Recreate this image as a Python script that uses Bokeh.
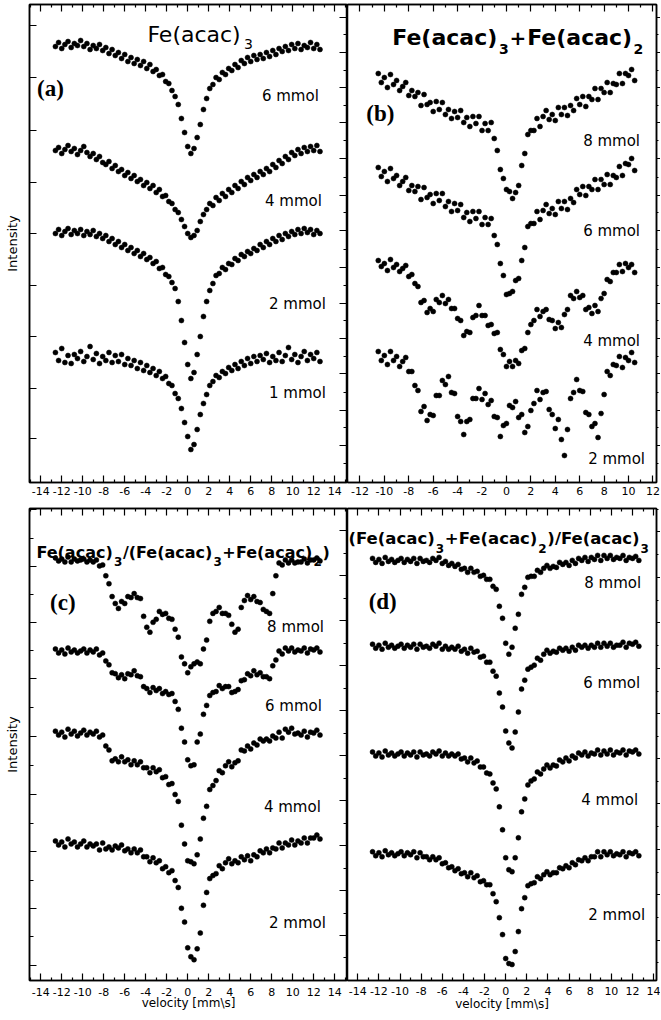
from bokeh.plotting import figure
from bokeh.layouts import row, column
from bokeh.models import Range1d, LinearAxis, FixedTicker, Label, CustomJSTickFormatter
from bokeh.embed import file_html
from bokeh.resources import INLINE

# ---------------- data (velocity in mm/s, intensity in arbitrary units) ----------------
VEL_W = [-12.6, -12.3, -12.0, -11.7, -11.4, -11.1, -10.8, -10.5, -10.2, -9.9, -9.6, -9.3, -9.0, -8.7,
         -8.4, -8.1, -7.8, -7.5, -7.2, -6.9, -6.6, -6.3, -6.0, -5.7, -5.4, -5.1, -4.8, -4.5, -4.2,
         -3.9, -3.6, -3.3, -3.0, -2.7, -2.4, -2.1, -1.8, -1.5, -1.2, -0.9, -0.6, -0.3, 0.0, 0.3, 0.6,
         0.9, 1.2, 1.5, 1.8, 2.1, 2.4, 2.7, 3.0, 3.3, 3.6, 3.9, 4.2, 4.5, 4.8, 5.1, 5.4, 5.7, 6.0,
         6.3, 6.6, 6.9, 7.2, 7.5, 7.8, 8.1, 8.4, 8.7, 9.0, 9.3, 9.6, 9.9, 10.2, 10.5, 10.8, 11.1,
         11.4, 11.7, 12.0, 12.3, 12.6]
VEL_B = [-10.5, -10.25, -10.0, -9.75, -9.5, -9.25, -9.0, -8.75, -8.5, -8.25, -8.0, -7.75, -7.5,
         -7.25, -7.0, -6.75, -6.5, -6.25, -6.0, -5.75, -5.5, -5.25, -5.0, -4.75, -4.5, -4.25, -4.0,
         -3.75, -3.5, -3.25, -3.0, -2.75, -2.5, -2.25, -2.0, -1.75, -1.5, -1.25, -1.0, -0.75, -0.5,
         -0.25, 0.0, 0.25, 0.5, 0.75, 1.0, 1.25, 1.5, 1.75, 2.0, 2.25, 2.5, 2.75, 3.0, 3.25, 3.5,
         3.75, 4.0, 4.25, 4.5, 4.75, 5.0, 5.25, 5.5, 5.75, 6.0, 6.25, 6.5, 6.75, 7.0, 7.25, 7.5,
         7.75, 8.0, 8.25, 8.5, 8.75, 9.0, 9.25, 9.5, 9.75, 10.0, 10.25, 10.5]

# (a) Fe(acac)3
A_6 = [436, 440, 434, 438, 441, 435, 439, 437, 442, 436, 439, 433, 437, 434, 438, 432, 435, 429, 433, 427,
       430, 424, 428, 421, 425, 419, 423, 417, 421, 414, 418, 411, 413, 407, 408, 401, 399, 392, 386, 378,
       364, 350, 336, 329, 334, 345, 358, 373, 384, 394, 398, 405, 403, 410, 408, 414, 412, 418, 415, 422,
       419, 425, 421, 427, 423, 428, 424, 430, 426, 432, 428, 434, 431, 436, 432, 438, 434, 439, 433, 437,
       435, 440, 434, 438, 433]
A_4 = [332, 335, 329, 333, 337, 331, 334, 328, 332, 336, 330, 326, 329, 323, 326, 320, 318, 321, 314, 317,
       311, 313, 307, 310, 304, 307, 301, 303, 297, 300, 294, 297, 290, 293, 286, 287, 281, 279, 273, 270,
       263, 256, 249, 245, 247, 252, 261, 268, 273, 279, 277, 285, 282, 289, 286, 293, 290, 297, 294, 301,
       298, 305, 302, 308, 305, 311, 308, 314, 311, 318, 315, 322, 319, 326, 323, 330, 327, 333, 329, 335,
       331, 336, 332, 337, 331]
A_2 = [249, 253, 247, 251, 254, 248, 252, 249, 253, 247, 251, 248, 252, 246, 249, 244, 247, 241, 244, 238,
       241, 235, 238, 232, 235, 229, 232, 226, 229, 223, 225, 219, 221, 214, 215, 208, 206, 200, 194, 181,
       162, 140, 118, 104, 110, 128, 146, 166, 181, 192, 199, 207, 209, 215, 213, 219, 218, 224, 222, 228,
       226, 231, 229, 234, 232, 238, 235, 241, 238, 244, 241, 247, 243, 249, 246, 251, 248, 253, 249, 254,
       250, 253, 248, 252, 249]
A_1 = [130, 122, 134, 120, 127, 119, 128, 124, 131, 121, 126, 136, 123, 129, 119, 126, 122, 130, 120, 127,
       121, 128, 118, 124, 117, 122, 114, 120, 112, 117, 110, 114, 107, 111, 104, 106, 99, 97, 89, 84,
       74, 60, 46, 33, 38, 53, 68, 79, 88, 97, 101, 107, 105, 111, 109, 115, 112, 118, 114, 121,
       117, 124, 119, 126, 121, 127, 123, 129, 120, 126, 122, 130, 121, 127, 135, 123, 128, 120, 126, 131,
       122, 128, 124, 130, 121]

# (b) Fe(acac)3 + Fe(acac)2
B_8 = [409, 400, 405, 395, 408, 398, 402, 392, 396, 400, 387, 392, 386, 390, 377, 388, 378, 380, 371, 381,
       373, 380, 368, 373, 364, 371, 365, 372, 360, 365, 356, 366, 359, 366, 352, 359, 352, 360, 344, 332,
       313, 304, 293, 291, 284, 290, 297, 317, 329, 348, 352, 352, 364, 356, 366, 372, 363, 368, 362, 375,
       368, 375, 367, 377, 372, 384, 378, 386, 376, 386, 383, 394, 383, 394, 390, 400, 390, 399, 398, 409,
       399, 409, 407, 413, 402]
B_6 = [315, 306, 311, 301, 314, 304, 307, 297, 301, 305, 292, 297, 291, 296, 283, 295, 285, 288, 279, 289,
       282, 289, 276, 281, 271, 279, 272, 278, 265, 270, 261, 271, 264, 271, 258, 265, 258, 264, 247, 238,
       219, 207, 188, 189, 191, 202, 204, 222, 235, 256, 259, 259, 271, 263, 272, 278, 269, 274, 268, 281,
       274, 281, 273, 284, 280, 293, 288, 296, 287, 296, 293, 303, 293, 303, 298, 308, 298, 307, 305, 316,
       307, 319, 318, 324, 312]
B_4 = [222, 216, 219, 212, 223, 215, 218, 211, 214, 217, 206, 208, 199, 196, 180, 182, 170, 174, 171, 183,
       180, 187, 179, 183, 174, 174, 164, 162, 147, 151, 150, 165, 167, 177, 167, 167, 157, 158, 149, 150,
       133, 128, 116, 121, 116, 122, 119, 132, 134, 150, 158, 162, 173, 166, 171, 173, 163, 162, 154, 160,
       155, 168, 173, 187, 184, 191, 185, 187, 173, 175, 169, 177, 171, 184, 189, 203, 201, 210, 210, 218,
       211, 219, 215, 218, 210]
B_2 = [131, 122, 127, 118, 131, 122, 126, 116, 121, 125, 111, 111, 97, 92, 71, 76, 62, 68, 67, 87,
       87, 102, 98, 106, 90, 89, 66, 61, 48, 61, 63, 84, 84, 94, 83, 89, 78, 82, 66, 65,
       46, 57, 59, 77, 75, 81, 65, 68, 50, 56, 72, 79, 92, 83, 90, 91, 73, 68, 54, 63,
       43, 27, 53, 84, 90, 103, 92, 91, 70, 68, 56, 59, 45, 69, 88, 111, 107, 118, 117, 126,
       115, 125, 122, 130, 120]

# (c) Fe(acac)3/(Fe(acac)3+Fe(acac)2)
C_8 = [427, 424, 426, 423, 428, 423, 426, 424, 425, 426, 423, 425, 423, 425, 419, 420, 409, 401, 388, 381,
       376, 383, 381, 388, 387, 391, 387, 386, 368, 357, 352, 362, 365, 373, 370, 371, 366, 365, 355, 347,
       327, 320, 311, 317, 320, 322, 320, 335, 344, 363, 371, 373, 377, 371, 371, 369, 360, 352, 355, 377,
       384, 389, 385, 388, 383, 382, 375, 373, 371, 391, 409, 422, 420, 425, 422, 425, 422, 423, 423, 426,
       422, 425, 425, 427, 424]
C_6 = [335, 331, 334, 330, 336, 332, 334, 331, 333, 335, 331, 334, 332, 335, 329, 331, 323, 319, 311, 310,
       306, 309, 305, 310, 309, 313, 308, 307, 297, 295, 291, 296, 293, 295, 290, 292, 289, 290, 282, 274,
       255, 241, 223, 217, 218, 241, 249, 269, 278, 288, 291, 292, 298, 295, 297, 297, 291, 292, 294, 303,
       304, 310, 308, 313, 309, 311, 307, 307, 305, 318, 324, 333, 330, 336, 333, 336, 332, 334, 333, 336,
       331, 335, 334, 336, 332]
C_4 = [252, 248, 251, 246, 254, 249, 252, 247, 250, 253, 248, 251, 249, 252, 246, 248, 237, 233, 222, 224,
       221, 226, 221, 223, 218, 222, 218, 221, 215, 215, 210, 215, 211, 213, 205, 206, 198, 199, 188, 181,
       157, 138, 121, 120, 118, 127, 143, 164, 176, 193, 197, 202, 212, 210, 217, 221, 216, 220, 222, 233,
       232, 237, 234, 240, 238, 244, 242, 244, 242, 247, 245, 251, 245, 254, 251, 255, 249, 250, 248, 252,
       246, 251, 250, 253, 248]
C_2 = [141, 137, 140, 135, 143, 138, 140, 135, 138, 141, 135, 138, 136, 138, 132, 139, 133, 135, 132, 136,
       134, 137, 131, 133, 129, 133, 129, 132, 125, 125, 120, 124, 119, 121, 113, 115, 109, 111, 101, 94,
       73, 59, 33, 24, 21, 32, 48, 76, 89, 103, 106, 108, 116, 113, 119, 123, 118, 121, 119, 125,
       122, 126, 121, 127, 125, 131, 129, 133, 129, 134, 133, 139, 134, 139, 137, 142, 137, 141, 139, 144,
       139, 144, 144, 147, 143]

# (d) (Fe(acac)3+Fe(acac)2)/Fe(acac)3
D_8 = [423, 419, 422, 418, 424, 420, 422, 419, 421, 423, 419, 422, 420, 423, 418, 423, 420, 421, 419, 423,
       421, 424, 418, 420, 416, 418, 415, 417, 412, 413, 409, 413, 409, 410, 405, 406, 402, 402, 395, 392,
       375, 363, 338, 327, 334, 353, 367, 387, 394, 404, 405, 405, 411, 409, 413, 416, 413, 415, 414, 419,
       417, 419, 416, 421, 418, 423, 421, 424, 420, 424, 422, 426, 421, 426, 423, 426, 422, 424, 423, 426,
       421, 424, 423, 425, 421]
D_6 = [337, 333, 336, 332, 338, 334, 336, 333, 335, 337, 333, 336, 334, 337, 332, 337, 334, 335, 333, 337,
       335, 338, 332, 335, 332, 334, 332, 335, 330, 332, 328, 333, 329, 330, 324, 325, 319, 319, 310, 305,
       288, 274, 250, 238, 233, 249, 269, 292, 301, 312, 314, 316, 323, 321, 327, 331, 328, 330, 329, 333,
       331, 333, 330, 334, 331, 336, 334, 336, 333, 336, 334, 338, 334, 338, 335, 338, 334, 336, 336, 339,
       334, 338, 337, 339, 335]
D_4 = [229, 225, 228, 224, 230, 226, 228, 225, 227, 229, 225, 228, 226, 229, 224, 229, 226, 227, 225, 229,
       227, 230, 225, 228, 225, 227, 225, 227, 222, 223, 219, 223, 218, 220, 214, 214, 208, 207, 198, 192,
       174, 151, 123, 111, 109, 123, 143, 169, 182, 196, 200, 202, 209, 207, 212, 216, 213, 216, 215, 221,
       219, 223, 220, 225, 223, 228, 226, 229, 225, 228, 227, 231, 226, 230, 227, 231, 226, 229, 228, 231,
       226, 230, 229, 231, 227]
D_2 = [129, 125, 128, 124, 130, 126, 128, 125, 127, 129, 125, 128, 126, 129, 123, 128, 124, 124, 121, 124,
       121, 123, 117, 118, 113, 114, 110, 112, 107, 108, 104, 108, 103, 105, 99, 100, 96, 96, 87, 79,
       63, 46, 22, 17, 16, 29, 49, 72, 83, 95, 97, 98, 104, 102, 106, 109, 106, 108, 108, 113,
       112, 115, 113, 118, 116, 121, 120, 123, 120, 124, 124, 129, 124, 129, 126, 129, 125, 127, 126, 129,
       124, 128, 127, 129, 125]

for s in (A_6, A_4, A_2, A_1, C_8, C_6, C_4, C_2, D_8, D_6, D_4, D_2):
    assert len(s) == len(VEL_W)
for s in (B_8, B_6, B_4, B_2):
    assert len(s) == len(VEL_B)

# tick labels / tick positions
X_MAJOR = [-14, -12, -10, -8, -6, -4, -2, 0, 2, 4, 6, 8, 10, 12, 14]
X_MINOR = [-15, -13, -11, -9, -7, -5, -3, -1, 1, 3, 5, 7, 9, 11, 13, 15]
A_YT = [44, 94, 146, 197, 249, 300, 352, 405, 457]
B_YT = [37, 72, 109, 144, 179, 215, 252, 287, 324, 360, 395, 430, 465]
B_YM = [19, 55, 90, 126, 162, 197, 233, 270, 305, 342, 377, 412, 448]
C_YT = [15, 73, 130, 188, 247, 305, 362, 418, 476]
C_YM = [44, 101, 159, 217, 276, 333, 390, 447]
D_YT = [40, 86, 131, 177, 222, 268, 313, 359, 404, 450]
D_YM = [18, 63, 108, 154, 199, 245, 290, 336, 381, 427, 472]

SANS = "DejaVu Sans"
SERIF = "Liberation Serif"


def base_fig(width, height, xr, yr, left, right, top, bottom):
    p = figure(width=width, height=height, x_range=Range1d(*xr), y_range=Range1d(*yr),
               x_axis_location=None, y_axis_location=None,
               output_backend="svg", toolbar_location=None,
               min_border_left=left, min_border_right=right,
               min_border_top=top, min_border_bottom=bottom)
    p.grid.visible = False
    p.outline_line_color = "black"
    p.outline_line_width = 1.5
    p.background_fill_color = "white"
    p.border_fill_color = "white"
    return p


def add_axis(p, place, ticks, minor, tin=0, min_in=0, tout=0, min_out=0, labels=False,
             axis_label=None, label_standoff=3, axis_label_standoff=0):
    ax = LinearAxis(ticker=FixedTicker(ticks=ticks, minor_ticks=minor))
    ax.major_tick_in = tin
    ax.major_tick_out = tout
    ax.minor_tick_in = min_in
    ax.minor_tick_out = min_out
    ax.axis_line_color = "black"
    ax.axis_line_width = 1.5
    ax.major_tick_line_color = "black"
    ax.major_tick_line_width = 1.2
    ax.minor_tick_line_color = "black"
    ax.minor_tick_line_width = 1.2
    ax.formatter = CustomJSTickFormatter(code="return String(tick);")
    if labels:
        ax.major_label_text_font = SANS
        ax.major_label_text_font_size = "11px"
        ax.major_label_text_color = "black"
        ax.major_label_standoff = label_standoff
    else:
        ax.major_label_text_font_size = "0px"
        ax.major_label_text_color = None
        ax.major_label_standoff = 0
    if axis_label:
        ax.axis_label = axis_label
        ax.axis_label_text_font = SANS
        ax.axis_label_text_font_size = "13px" if axis_label == "Intensity" else "12px"
        ax.axis_label_text_font_style = "normal"
        ax.axis_label_text_color = "black"
        ax.axis_label_standoff = axis_label_standoff
    p.add_layout(ax, place)
    return ax


def text(p, s, x, y, size, font=SANS, style="normal", align="left", baseline="alphabetic"):
    p.add_layout(Label(x=x, y=y, text=s, text_font=font, text_font_size=size,
                       text_font_style=style, text_color="black",
                       text_align=align, text_baseline=baseline))


def dots(p, xs, ys):
    p.scatter(xs, ys, size=5, marker="circle", fill_color="black", line_color="black", line_width=0.5)


LEFT_W, RIGHT_W = 347, 313
TOP_H, BOT_H = 505, 513

# ---------------- panel (a) ----------------
pa = base_fig(LEFT_W, TOP_H, (-15.07, 15.22), (0, 478), 29, 0, 4, 23)
add_axis(pa, "below", X_MAJOR, X_MINOR, tin=7, min_in=3, labels=True, label_standoff=4)
add_axis(pa, "above", X_MAJOR, X_MINOR, tin=7, min_in=3)
add_axis(pa, "left", A_YT, [], tin=7, axis_label="Intensity", axis_label_standoff=10)
add_axis(pa, "right", B_YT, B_YM, tin=8, min_in=4)
for ys in (A_6, A_4, A_2, A_1):
    dots(pa, VEL_W, ys)
text(pa, "Fe(acac)", -3.84, 448, "22px")
text(pa, "3", 5.35, 439, "14px")
text(pa, "(a)", -13.07, 394, "23px", font=SERIF, style="bold", align="center", baseline="middle")
for s, x, y in (("6 mmol", 9.78, 387), ("4 mmol", 10.07, 282), ("2 mmol", 10.45, 179), ("1 mmol", 10.45, 90)):
    text(pa, s, x, y, "15px", align="center", baseline="middle")

# ---------------- panel (b) ----------------
pb = base_fig(RIGHT_W, TOP_H, (-13.02, 12.29), (0, 478), 0, 3, 4, 23)
add_axis(pb, "below", X_MAJOR, X_MINOR, tin=7, min_in=3, labels=True, label_standoff=4)
add_axis(pb, "above", X_MAJOR, X_MINOR, tin=7, min_in=3)
add_axis(pb, "right", B_YT, B_YM, tout=4, min_out=2)
for ys in (B_8, B_6, B_4, B_2):
    dots(pb, VEL_B, ys)
text(pb, "Fe(acac)", -9.35, 445, "22px", style="bold")
text(pb, "3", -0.61, 434, "14px", style="bold")
text(pb, "+", 0.25, 445, "20px", style="bold")
text(pb, "Fe(acac)", 1.70, 445, "22px", style="bold")
text(pb, "2", 10.40, 434, "14px", style="bold")
text(pb, "(b)", -10.33, 369, "23px", font=SERIF, style="bold", align="center", baseline="middle")
for s, x, y in (("8 mmol", 8.61, 342), ("6 mmol", 8.61, 252), ("4 mmol", 8.61, 142), ("2 mmol", 9.02, 24)):
    text(pb, s, x, y, "15px", align="center", baseline="middle")

# ---------------- panel (c) ----------------
pc = base_fig(LEFT_W, BOT_H, (-15.07, 15.22), (0, 477), 29, 0, 3, 33)
add_axis(pc, "below", X_MAJOR, X_MINOR, tin=7, min_in=3, labels=True,
         axis_label="velocity [mm\\s]", label_standoff=7, axis_label_standoff=-3)
add_axis(pc, "above", X_MAJOR, X_MINOR, tin=7, min_in=3)
add_axis(pc, "left", C_YT, C_YM, tin=7, min_in=4, axis_label="Intensity", axis_label_standoff=10)
add_axis(pc, "right", [t + 5 for t in D_YT], [t + 5 for t in D_YM], tin=8, min_in=4)
for ys in (C_8, C_6, C_4, C_2):
    dots(pc, VEL_W, ys)
for s, x, y, sz in (("Fe(acac)", -14.41, 433, "16px"), ("3", -7.03, 423, "12px"),
                    ("/(Fe(acac)", -6.17, 433, "16px"), ("3", 2.45, 423, "12px"),
                    ("+", 3.30, 433, "16px"), ("Fe(acac)", 4.59, 433, "16px"),
                    ("2", 11.97, 423, "12px"), (")", 12.83, 433, "16px")):
    text(pc, s, x, y, sz, style="bold")
text(pc, "(c)", -11.9, 382, "23px", font=SERIF, style="bold", align="center", baseline="middle")
for s, x, y in (("8 mmol", 10.27, 357), ("6 mmol", 10.07, 277), ("4 mmol", 9.97, 175), ("2 mmol", 10.45, 58)):
    text(pc, s, x, y, "15px", align="center", baseline="middle")

# ---------------- panel (d) ----------------
pd_ = base_fig(RIGHT_W, BOT_H, (-14.97, 14.27), (0, 473), 0, 3, 2, 38)
add_axis(pd_, "below", X_MAJOR, X_MINOR, tin=7, min_in=3, labels=True,
         axis_label="velocity [mm\\s]", label_standoff=6, axis_label_standoff=-1)
add_axis(pd_, "above", X_MAJOR, X_MINOR, tin=7, min_in=3)
add_axis(pd_, "right", D_YT, D_YM, tout=4, min_out=2)
for ys in (D_8, D_6, D_4, D_2):
    dots(pd_, VEL_W, ys)
for s, x, y, sz in (("(Fe(acac)", -14.88, 443, "16.5px"), ("3", -6.62, 433, "12px"),
                    ("+", -5.77, 443, "16.5px"), ("Fe(acac)", -4.45, 443, "16.5px"),
                    ("2", 3.09, 433, "12px"), (")/Fe(acac)", 3.94, 443, "16.5px"),
                    ("3", 12.76, 433, "12px")):
    text(pd_, s, x, y, sz, style="bold")
text(pd_, "(d)", -11.64, 380, "23px", font=SERIF, style="bold", align="center", baseline="middle")
for s, x, y in (("8 mmol", 10.12, 398), ("6 mmol", 10.03, 298), ("4 mmol", 9.84, 181), ("2 mmol", 10.5, 66)):
    text(pd_, s, x, y, "15px", align="center", baseline="middle")

layout = column(row(pa, pb), row(pc, pd_))
open("out.html", "w").write(file_html(layout, INLINE))
